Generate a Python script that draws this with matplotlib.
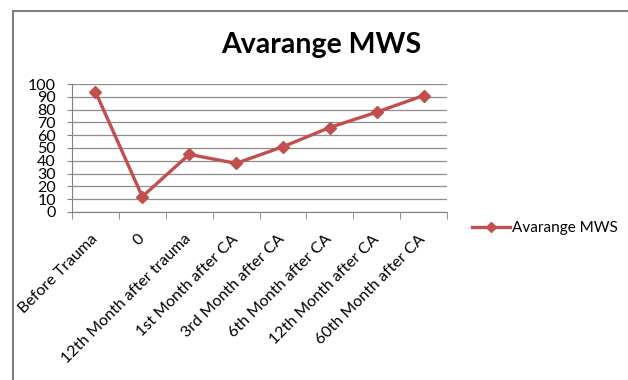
import matplotlib
matplotlib.use("Agg")
import matplotlib.pyplot as plt
from matplotlib.patches import Rectangle
from matplotlib.lines import Line2D

categories = ["Before Trauma", "0", "12th Month after trauma", "1st Month after CA",
              "3rd Month after CA", "6th Month after CA", "12th Month after CA",
              "60th Month after CA"]
values = [94, 12, 45, 38, 51, 66, 78, 91]
series_name = "Avarange MWS"
yticks = list(range(0, 101, 10))

plt.rcParams['font.family'] = ['Lato', 'DejaVu Sans']

W, H = 628, 380
fig = plt.figure(figsize=(W / 100, H / 100), dpi=100)
ax = fig.add_axes([72 / W, 1 - 212 / H, (447 - 72) / W, (212 - 84) / H])

x = list(range(len(categories)))
ax.plot(x, values, color="#C0504D", lw=2.4, marker="D", markersize=6.5,
        label=series_name, zorder=3)

ax.set_xlim(-0.5, len(categories) - 0.5)
ax.set_ylim(0, 100)
ax.set_yticks(yticks)
ax.set_yticklabels([str(v) for v in yticks], fontsize=11.5)
ax.set_xticks(x)
ax.set_xticklabels(categories, rotation=45, ha="right", va="center",
                   rotation_mode="anchor", fontsize=11.5)
ax.tick_params(axis="x", length=0, pad=18)
ax.set_xticks([i - 0.5 for i in range(len(categories) + 1)], minor=True)
ax.tick_params(axis="x", which="minor", length=5, color="#808080", direction="out")
ax.tick_params(axis="y", length=3.6, color="#808080", pad=8)
ax.grid(axis="y", color="#8c8c8c", lw=0.9)
for s in ["top", "right"]:
    ax.spines[s].set_visible(False)
for s in ["left", "bottom"]:
    ax.spines[s].set_color("#808080")

fig.text(321 / W, 1 - 45 / H, series_name, ha="center", va="center",
         fontsize=20.5, fontweight="bold")

h = Line2D([], [], color="#C0504D", lw=2.4, marker="D", markersize=5)
fig.legend([h], [series_name], loc="center left", bbox_to_anchor=(472 / W, 1 - 228 / H),
           frameon=False, fontsize=11, handlelength=2.5, handletextpad=0.15,
           borderpad=0, borderaxespad=0)

fig.patches.append(Rectangle((13 / W, -0.1), 1.2, 1 - 11 / H + 0.1, transform=fig.transFigure,
                             fill=False, edgecolor="#7f7f7f", lw=1.5))

fig.savefig("out.png", dpi=100)
